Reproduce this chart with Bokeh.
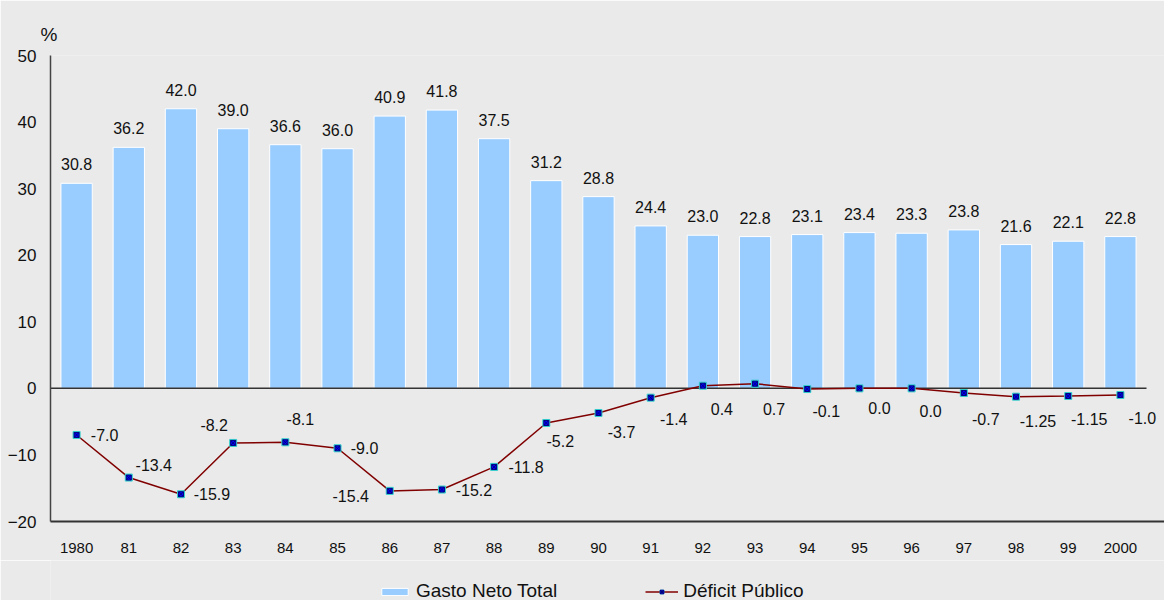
from bokeh.plotting import figure
from bokeh.layouts import column
from bokeh.models import ColumnDataSource, Range1d, Legend, LegendItem, FixedTicker
from bokeh.core.properties import value
from bokeh.embed import file_html
from bokeh.resources import INLINE

years = ["1980", "81", "82", "83", "84", "85", "86", "87", "88", "89", "90",
         "91", "92", "93", "94", "95", "96", "97", "98", "99", "2000"]
gasto = [30.8, 36.2, 42.0, 39.0, 36.6, 36.0, 40.9, 41.8, 37.5, 31.2, 28.8,
         24.4, 23.0, 22.8, 23.1, 23.4, 23.3, 23.8, 21.6, 22.1, 22.8]
deficit = [-7.0, -13.4, -15.9, -8.2, -8.1, -9.0, -15.4, -15.2, -11.8, -5.2, -3.7,
           -1.4, 0.4, 0.7, -0.1, 0.0, 0.0, -0.7, -1.25, -1.15, -1.0]
deficit_labels = ["-7.0", "-13.4", "-15.9", "-8.2", "-8.1", "-9.0", "-15.4", "-15.2",
                  "-11.8", "-5.2", "-3.7", "-1.4", "0.4", "0.7", "-0.1", "0.0", "0.0",
                  "-0.7", "-1.25", "-1.15", "-1.0"]
y_ticks = [-20, -10, 0, 10, 20, 30, 40, 50]
series_names = ["Gasto Neto Total", "Déficit Público"]

# label placement offsets (screen pixels) for the deficit labels
lab_dx = [28, 25, 31, -19, 15, 27, -39, 32, 32, 14, 23, 23, 19, 19, 19, 20, 19, 22, 22, 21, 22]
lab_dy = [0, -13, 0, -18, -23, 0, 5, 0, 0, 18, 19, 21, 23, 25, 22, 20, 23, 26, 24, 23, 23]

FONT = "Liberation Sans"
BG = "#EAEAEA"
TXT = "#111111"
BAR_STYLE = dict(fill_color="#99CCFF", line_color="white", line_width=1)
LINE_STYLE = dict(line_color="#800000", line_width=1.5)
MK1_STYLE = dict(marker="square", size=7, fill_color="#33CCCC", line_color="#33CCCC")
MK2_STYLE = dict(marker="square_x", size=5, fill_color="#0000FF", line_color="#000080", line_width=1)

xs = list(range(len(years)))
n = len(years)

p = figure(width=1164, height=560, x_range=Range1d(-0.5, n - 0.5 + 0.345),
           y_range=Range1d(-20, 50), output_backend="svg", toolbar_location=None,
           min_border_left=50, min_border_right=0, min_border_top=55, min_border_bottom=39)
p.background_fill_color = BG
p.border_fill_color = BG
p.outline_line_color = None
p.xgrid.grid_line_color = None
p.ygrid.grid_line_color = None

src = ColumnDataSource(dict(x=xs, g=gasto, gl=["%.1f" % v for v in gasto],
                            d=deficit, dl=deficit_labels, dx=lab_dx, dy=lab_dy))

p.vbar(x="x", top="g", bottom=0, width=0.6, source=src, **BAR_STYLE)

# zero reference line across the category span
p.segment(x0=[-0.5], y0=[0], x1=[n - 0.5], y1=[0], line_color="#333333", line_width=1.5)

p.text(x="x", y="g", text="gl", source=src, text_align="center", text_baseline="middle",
       y_offset=-19, text_font=value(FONT), text_font_size="16px", text_color=TXT)

p.line(x="x", y="d", source=src, **LINE_STYLE)
p.scatter(x="x", y="d", source=src, **MK1_STYLE)
p.scatter(x="x", y="d", source=src, **MK2_STYLE)

p.text(x="x", y="d", text="dl", source=src, x_offset="dx", y_offset="dy",
       text_align="center", text_baseline="middle",
       text_font=value(FONT), text_font_size="16px", text_color=TXT)

# axes
p.yaxis.ticker = FixedTicker(ticks=y_ticks)
p.yaxis.axis_line_color = "#444444"
p.yaxis.axis_line_width = 1.5
p.yaxis.major_tick_line_color = None
p.yaxis.minor_tick_line_color = None
p.yaxis.major_tick_out = 0
p.yaxis.major_tick_in = 0
p.yaxis.major_label_standoff = 14
p.yaxis.major_label_text_font = FONT
p.yaxis.major_label_text_font_size = "17px"
p.yaxis.major_label_text_color = TXT

p.xaxis.ticker = FixedTicker(ticks=xs)
p.xaxis.major_label_overrides = {i: y for i, y in enumerate(years)}
p.xaxis.axis_line_color = "#333333"
p.xaxis.axis_line_width = 2
p.xaxis.major_tick_line_color = None
p.xaxis.minor_tick_line_color = None
p.xaxis.major_tick_out = 0
p.xaxis.major_tick_in = 0
p.xaxis.major_label_standoff = 21
p.xaxis.major_label_text_font = FONT
p.xaxis.major_label_text_font_size = "15px"
p.xaxis.major_label_text_color = TXT

# "%" unit label as a left-aligned title
p.title.text = "%"
p.title.align = "left"
p.title.offset = -10
p.title.standoff = 21
p.title.text_font = FONT
p.title.text_font_size = "19px"
p.title.text_font_style = "normal"
p.title.text_color = TXT

# legend strip below the chart (glyphs out of view, legend only)
lg = figure(width=1164, height=40, x_range=Range1d(1000, 1001), y_range=Range1d(1000, 1001),
            output_backend="svg", toolbar_location=None,
            min_border_left=0, min_border_right=0, min_border_top=0, min_border_bottom=0)
lg.axis.visible = False
lg.grid.visible = False
lg.outline_line_color = None
lg.background_fill_color = BG
lg.border_fill_color = BG
rb = lg.vbar(x="x", top="g", bottom=0, width=0.6, source=src, **BAR_STYLE)
rl = lg.line(x="x", y="d", source=src, **LINE_STYLE)
rm1 = lg.scatter(x="x", y="d", source=src, **MK1_STYLE)
rm2 = lg.scatter(x="x", y="d", source=src, **MK2_STYLE)

legend = Legend(items=[LegendItem(label=series_names[0], renderers=[rb]),
                       LegendItem(label=series_names[1], renderers=[rl, rm1, rm2])],
                orientation="horizontal", location=(328, -2),
                glyph_width=33, glyph_height=9, label_height=16, label_standoff=5,
                spacing=88, padding=0, margin=0, border_line_color=None,
                background_fill_alpha=0,
                label_text_font=FONT, label_text_font_size="19px",
                label_text_color=TXT)
lg.add_layout(legend, "center")

open("out.html", "w").write(file_html(column(p, lg, spacing=0), INLINE))
